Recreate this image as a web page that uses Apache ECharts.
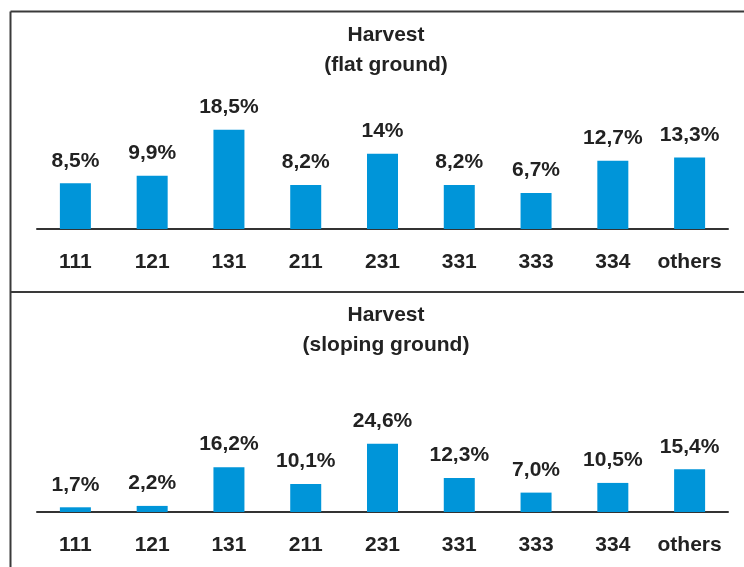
<!DOCTYPE html>
<html>
<head>
<meta charset="utf-8">
<script src="https://cdn.jsdelivr.net/npm/echarts@6/dist/echarts.min.js"></script>
<style>
html, body { margin: 0; padding: 0; background: #fff; }
#chart { width: 744px; height: 567px; }
</style>
</head>
<body>
<div id="chart"></div>
<script>
var categories = ['111', '121', '131', '211', '231', '331', '333', '334', 'others'];
var flatValues = [8.5, 9.9, 18.5, 8.2, 14, 8.2, 6.7, 12.7, 13.3];
var flatLabels = ['8,5%', '9,9%', '18,5%', '8,2%', '14%', '8,2%', '6,7%', '12,7%', '13,3%'];
var slopeValues = [1.7, 2.2, 16.2, 10.1, 24.6, 12.3, 7.0, 10.5, 15.4];
var slopeLabels = ['1,7%', '2,2%', '16,2%', '10,1%', '24,6%', '12,3%', '7,0%', '10,5%', '15,4%'];

var font = 'Liberation Sans, Arial, sans-serif';
var barColor = '#0095d9';

function makeSeries(idx, values, labels) {
	return {
		type: 'bar',
		xAxisIndex: idx,
		yAxisIndex: idx,
		barWidth: 31,
		itemStyle: { color: barColor },
		label: {
			show: true,
			position: 'top',
			distance: 12,
			fontFamily: font,
			fontWeight: 'bold',
			fontSize: 21,
			color: '#222',
			formatter: function (p) { return labels[p.dataIndex]; }
		},
		data: values
	};
}

function makeX(idx) {
	return {
		type: 'category',
		gridIndex: idx,
		data: categories,
		axisLine: { lineStyle: { color: '#333', width: 2 } },
		axisTick: { show: false },
		axisLabel: {
			interval: 0,
			margin: 23,
			fontFamily: font,
			fontWeight: 'bold',
			fontSize: 21,
			color: '#222'
		}
	};
}

function makeY(idx, max) {
	return {
		type: 'value',
		gridIndex: idx,
		min: 0,
		max: max,
		show: false,
		splitLine: { show: false }
	};
}

var titleStyle = { fontFamily: font, fontWeight: 'bold', fontSize: 21, color: '#222', lineHeight: 30 };

var myChart = echarts.init(document.getElementById('chart'));
var option = {
	animation: false,
	title: [
		{ text: 'Harvest\n(flat ground)', left: 381, top: 15, textAlign: 'center', textStyle: titleStyle },
		{ text: 'Harvest\n(sloping ground)', left: 381, top: 295, textAlign: 'center', textStyle: titleStyle }
	],
	grid: [
		{ left: 37, right: 16, top: 229 - 20 * 5.37, height: 20 * 5.37 },
		{ left: 37, right: 16, top: 512 - 30 * 2.77, height: 30 * 2.77 }
	],
	xAxis: [makeX(0), makeX(1)],
	yAxis: [makeY(0, 20), makeY(1, 30)],
	series: [makeSeries(0, flatValues, flatLabels), makeSeries(1, slopeValues, slopeLabels)],
	graphic: [
		{ type: 'line', shape: { x1: 10.5, y1: 11.5, x2: 744, y2: 11.5 }, style: { stroke: '#3a3a3a', lineWidth: 2 } },
		{ type: 'line', shape: { x1: 10.5, y1: 11.5, x2: 10.5, y2: 567 }, style: { stroke: '#3a3a3a', lineWidth: 2 } },
		{ type: 'line', shape: { x1: 10.5, y1: 292, x2: 744, y2: 292 }, style: { stroke: '#3a3a3a', lineWidth: 2 } }
	]
};
option && myChart.setOption(option);
</script>
</body>
</html>
